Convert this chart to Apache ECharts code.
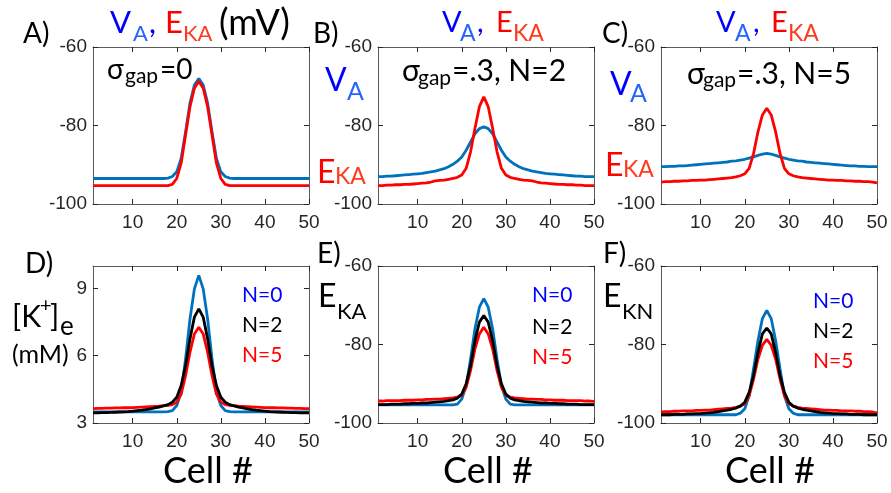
<!DOCTYPE html>
<html><head><meta charset="utf-8">
<script src="https://cdn.jsdelivr.net/npm/echarts@6/dist/echarts.min.js"></script>
<style>html,body{margin:0;padding:0;background:#fff}#c{width:891px;height:493px}</style>
</head><body><div id="c"></div>
<script>
// ---- data ----
const CELLS = [1,2,3,4,5,6,7,8,9,10,11,12,13,14,15,16,17,18,19,20,21,22,23,24,25,26,27,28,29,30,31,32,33,34,35,36,37,38,39,40,41,42,43,44,45,46,47,48,49,50];
const X_TICKS = [10,20,30,40,50];
const Y_TICKS_MV = [-100,-80,-60];
const Y_TICKS_K = [3,6,9];

// A) sigma_gap = 0
const A_VA = [-93.5,-93.5,-93.5,-93.5,-93.5,-93.5,-93.5,-93.5,-93.5,-93.5,
  -93.5,-93.5,-93.5,-93.5,-93.5,-93.5,-93.5,-93.4,-93.0,-91.8,
  -88.4,-81.6,-74.3,-69.7,-68.0,-69.7,-74.3,-81.6,-88.4,-91.8,
  -93.0,-93.4,-93.5,-93.5,-93.5,-93.5,-93.5,-93.5,-93.5,-93.5,
  -93.5,-93.5,-93.5,-93.5,-93.5,-93.5,-93.5,-93.5,-93.5,-93.5];
const A_EKA = [-95.3,-95.3,-95.3,-95.3,-95.3,-95.3,-95.3,-95.3,-95.3,-95.3,
  -95.3,-95.3,-95.3,-95.3,-95.3,-95.3,-95.3,-95.3,-95.0,-93.5,
  -89.6,-82.4,-75.2,-70.5,-68.7,-70.5,-75.2,-82.4,-89.6,-93.5,
  -95.0,-95.3,-95.3,-95.3,-95.3,-95.3,-95.3,-95.3,-95.3,-95.3,
  -95.3,-95.3,-95.3,-95.3,-95.3,-95.3,-95.3,-95.3,-95.3,-95.3];
// B) sigma_gap = .3, N = 2
const B_VA = [-93.0,-93.0,-92.9,-92.9,-92.8,-92.7,-92.6,-92.5,-92.4,-92.3,
  -92.2,-92.0,-91.8,-91.6,-91.3,-91.0,-90.5,-89.9,-89.1,-88.0,
  -86.3,-84.2,-82.1,-80.8,-80.3,-80.8,-82.1,-84.2,-86.3,-88.0,
  -89.1,-89.9,-90.5,-91.0,-91.3,-91.6,-91.8,-92.0,-92.2,-92.3,
  -92.4,-92.5,-92.6,-92.7,-92.8,-92.9,-92.9,-93.0,-93.0,-93.0];
const B_EKA = [-95.3,-95.3,-95.2,-95.2,-95.1,-95.1,-95.0,-95.0,-94.9,-94.8,
  -94.7,-94.6,-94.4,-94.1,-94.0,-93.9,-93.7,-93.5,-93.2,-92.6,
  -90.9,-86.7,-80.7,-75.2,-72.7,-75.2,-80.7,-86.7,-90.9,-92.6,
  -93.2,-93.5,-93.7,-93.9,-94.0,-94.1,-94.4,-94.6,-94.7,-94.8,
  -94.9,-95.0,-95.0,-95.1,-95.1,-95.2,-95.2,-95.3,-95.3,-95.3];
// C) sigma_gap = .3, N = 5
const C_VA = [-90.5,-90.5,-90.4,-90.4,-90.3,-90.3,-90.2,-90.1,-90.0,-89.9,
  -89.8,-89.7,-89.6,-89.5,-89.4,-89.3,-89.1,-89.0,-88.8,-88.6,
  -88.3,-88.0,-87.6,-87.3,-87.1,-87.3,-87.6,-88.0,-88.3,-88.6,
  -88.8,-89.0,-89.1,-89.3,-89.4,-89.5,-89.6,-89.7,-89.8,-89.9,
  -90.0,-90.1,-90.2,-90.3,-90.3,-90.4,-90.4,-90.5,-90.5,-90.5];
const C_EKA = [-94.4,-94.3,-94.3,-94.2,-94.2,-94.1,-94.1,-94.0,-94.0,-93.9,
  -93.9,-93.8,-93.7,-93.6,-93.5,-93.4,-93.3,-93.1,-92.8,-92.3,
  -90.9,-87.1,-81.6,-77.3,-75.6,-77.3,-81.6,-87.1,-90.9,-92.3,
  -92.8,-93.1,-93.3,-93.4,-93.5,-93.6,-93.7,-93.8,-93.9,-93.9,
  -94.0,-94.0,-94.1,-94.1,-94.2,-94.2,-94.3,-94.3,-94.4,-94.6];
// D) [K+]e (mM)
const D_N0 = [3.50,3.50,3.50,3.50,3.50,3.50,3.50,3.50,3.50,3.50,
  3.50,3.50,3.50,3.50,3.50,3.50,3.50,3.51,3.55,3.78,
  4.37,5.86,7.64,8.98,9.58,8.98,7.64,5.86,4.37,3.78,
  3.55,3.51,3.50,3.50,3.50,3.50,3.50,3.50,3.50,3.50,
  3.50,3.50,3.50,3.50,3.50,3.50,3.50,3.50,3.50,3.50];
const D_N2 = [3.45,3.45,3.46,3.46,3.47,3.48,3.49,3.50,3.51,3.53,
  3.55,3.57,3.60,3.63,3.67,3.71,3.76,3.82,3.93,4.15,
  4.67,5.56,6.75,7.72,8.09,7.72,6.75,5.56,4.67,4.15,
  3.93,3.82,3.76,3.71,3.67,3.63,3.60,3.57,3.55,3.53,
  3.51,3.50,3.49,3.48,3.47,3.46,3.46,3.45,3.45,3.45];
const D_N5 = [3.64,3.65,3.65,3.66,3.66,3.67,3.67,3.68,3.68,3.69,
  3.70,3.71,3.72,3.73,3.74,3.75,3.77,3.79,3.82,3.93,
  4.29,5.12,6.16,6.97,7.27,6.97,6.16,5.12,4.29,3.93,
  3.82,3.79,3.77,3.75,3.74,3.73,3.72,3.71,3.70,3.69,
  3.68,3.68,3.67,3.67,3.66,3.66,3.65,3.65,3.64,3.64];
// E) E_KA
const E_N0 = [-95.4,-95.4,-95.4,-95.4,-95.4,-95.4,-95.4,-95.4,-95.4,-95.4,
  -95.4,-95.4,-95.4,-95.4,-95.4,-95.4,-95.4,-95.4,-95.2,-93.9,
  -90.5,-83.7,-76.0,-70.5,-68.3,-70.5,-76.0,-83.7,-90.5,-93.9,
  -95.2,-95.4,-95.4,-95.4,-95.4,-95.4,-95.4,-95.4,-95.4,-95.4,
  -95.4,-95.4,-95.4,-95.4,-95.4,-95.4,-95.4,-95.4,-95.4,-95.4];
const E_N2 = [-95.3,-95.3,-95.3,-95.2,-95.2,-95.2,-95.1,-95.1,-95.0,-95.0,
  -94.9,-94.9,-94.8,-94.7,-94.6,-94.5,-94.3,-94.1,-93.7,-92.6,
  -90.0,-85.3,-79.0,-74.3,-72.6,-74.3,-79.0,-85.3,-90.0,-92.6,
  -93.7,-94.1,-94.3,-94.5,-94.6,-94.7,-94.8,-94.9,-94.9,-95.0,
  -95.0,-95.1,-95.1,-95.2,-95.2,-95.2,-95.3,-95.3,-95.3,-95.3];
const E_N5 = [-94.4,-94.4,-94.3,-94.3,-94.3,-94.3,-94.2,-94.2,-94.2,-94.1,
  -94.1,-94.0,-94.0,-93.9,-93.9,-93.8,-93.7,-93.6,-93.4,-92.9,
  -90.9,-86.6,-81.1,-77.3,-75.6,-77.3,-81.1,-86.6,-90.9,-92.9,
  -93.4,-93.6,-93.7,-93.8,-93.9,-93.9,-94.0,-94.0,-94.1,-94.1,
  -94.2,-94.2,-94.2,-94.3,-94.3,-94.3,-94.3,-94.4,-94.4,-94.5];
// F) E_KN
const F_N0 = [-97.9,-97.9,-97.9,-97.9,-97.9,-97.9,-97.9,-97.9,-97.9,-97.9,
  -97.9,-97.9,-97.9,-97.9,-97.9,-97.9,-97.9,-97.9,-97.5,-96.4,
  -93.0,-86.2,-79.0,-73.4,-71.3,-73.4,-79.0,-86.2,-93.0,-96.4,
  -97.5,-97.9,-97.9,-97.9,-97.9,-97.9,-97.9,-97.9,-97.9,-97.9,
  -97.9,-97.9,-97.9,-97.9,-97.9,-97.9,-97.9,-97.9,-97.9,-97.9];
const F_N2 = [-97.9,-97.9,-97.9,-97.8,-97.8,-97.8,-97.7,-97.7,-97.6,-97.6,
  -97.5,-97.4,-97.3,-97.1,-96.9,-96.7,-96.5,-96.2,-95.7,-94.7,
  -92.2,-87.9,-82.0,-77.3,-75.8,-77.3,-82.0,-87.9,-92.2,-94.7,
  -95.7,-96.2,-96.5,-96.7,-96.9,-97.1,-97.3,-97.4,-97.5,-97.6,
  -97.6,-97.7,-97.7,-97.8,-97.8,-97.8,-97.9,-97.9,-97.9,-97.9];
const F_N5 = [-97.2,-97.1,-97.1,-97.0,-97.0,-96.9,-96.9,-96.9,-96.8,-96.8,
  -96.7,-96.7,-96.6,-96.5,-96.4,-96.3,-96.2,-96.0,-95.7,-95.1,
  -93.0,-88.8,-83.7,-80.2,-78.7,-80.2,-83.7,-88.8,-93.0,-95.1,
  -95.7,-96.0,-96.2,-96.3,-96.4,-96.5,-96.6,-96.7,-96.7,-96.8,
  -96.8,-96.9,-96.9,-96.9,-97.0,-97.0,-97.1,-97.1,-97.2,-97.4];

// ---- styling ----
const BLUE = '#0072BD', RED = '#FF0000', BLACK = '#000000';
const TXT_BLUE = '#0000FF', TXT_BLUE2 = '#2563FF', TXT_RED = '#FF0000', TXT_RED2 = '#FF3A1F';
const FONT = 'Lato, "Noto Sans", sans-serif';
const AXFONT = '"Liberation Sans", Arial, sans-serif';
const AXCOL = '#5c5c5c', TICKCOL = '#262626';
const W = 216, H = 157;

const panels = [
  {left:93,  top:47,  ymin:-100, ymax:-60, yt:Y_TICKS_MV, lines:[[A_VA,BLUE],[A_EKA,RED]]},
  {left:378, top:47,  ymin:-100, ymax:-60, yt:Y_TICKS_MV, lines:[[B_VA,BLUE],[B_EKA,RED]]},
  {left:661, top:47,  ymin:-100, ymax:-60, yt:Y_TICKS_MV, lines:[[C_VA,BLUE],[C_EKA,RED]]},
  {left:93,  top:266, ymin:3,    ymax:10,  yt:Y_TICKS_K,  lines:[[D_N0,BLUE],[D_N5,RED],[D_N2,BLACK]]},
  {left:378, top:266, ymin:-100, ymax:-60, yt:Y_TICKS_MV, lines:[[E_N0,BLUE],[E_N5,RED],[E_N2,BLACK]]},
  {left:661, top:266, ymin:-100, ymax:-60, yt:Y_TICKS_MV, lines:[[F_N0,BLUE],[F_N5,RED],[F_N2,BLACK]]}
];

const grid = [], xAxis = [], yAxis = [], series = [];
panels.forEach((p, i) => {
  grid.push({left:p.left, top:p.top, width:W, height:H, containLabel:false, outerBoundsMode:'none', show:false});
  const line = {show:true, onZero:false, lineStyle:{color:AXCOL, width:1}};
  const xt = {show:true, inside:true, length:5, customValues:X_TICKS, lineStyle:{color:TICKCOL, width:1}};
  const ytk = {show:true, inside:true, length:5, customValues:p.yt, lineStyle:{color:TICKCOL, width:1}};
  const lab = {fontFamily:AXFONT, fontSize:19, color:'#262626'};
  xAxis.push({type:'value', gridIndex:i, min:1, max:50, position:'bottom', axisLine:line, axisTick:xt,
    axisLabel:Object.assign({customValues:X_TICKS, margin:9}, lab), splitLine:{show:false}});
  xAxis.push({type:'value', gridIndex:i, min:1, max:50, position:'top', axisLine:line, axisTick:xt,
    axisLabel:{show:false}, splitLine:{show:false}});
  yAxis.push({type:'value', gridIndex:i, min:p.ymin, max:p.ymax, position:'left', axisLine:line, axisTick:ytk,
    axisLabel:Object.assign({customValues:p.yt, margin:6}, lab), splitLine:{show:false}});
  yAxis.push({type:'value', gridIndex:i, min:p.ymin, max:p.ymax, position:'right', axisLine:line, axisTick:ytk,
    axisLabel:{show:false}, splitLine:{show:false}});
  p.lines.forEach(([arr, color], k) => {
    series.push({type:'line', xAxisIndex:2*i, yAxisIndex:2*i, data:CELLS.map((c, j) => [c, arr[j]]),
      showSymbol:false, symbol:'none', smooth:false, clip:true, z:2+k,
      lineStyle:{color, width:2.8}, itemStyle:{color}, emphasis:{disabled:true}});
  });
});

function T(text, x, y, size, color, align) {
  return {type:'text', x, y, z:100, silent:true,
    style:{text, fontSize:size, fontFamily:FONT, fill:color,
      align:align||'left', verticalAlign:'middle', textAlign:align||'left', textVerticalAlign:'middle'}};
}

const texts = [
  // panel letters
  T('A)', 23, 34, 28, BLACK), T('B)', 313, 34, 28, BLACK), T('C)', 602, 34, 28, BLACK),
  T('D)', 25, 264, 28, BLACK), T('E)', 317, 254, 28, BLACK), T('F)', 603, 254, 28, BLACK),
  // title A
  T('V', 110, 23, 31, TXT_BLUE), T('A', 133, 33.5, 22, TXT_BLUE2), T(',', 149, 23, 31, TXT_BLUE),
  T('E', 165, 23, 31, TXT_RED), T('KA', 183, 33.5, 22, TXT_RED2), T('(mV)', 219, 23, 36, BLACK),
  // title B
  T('V', 442, 22.5, 29, TXT_BLUE), T('A', 460, 33.5, 23, TXT_BLUE2), T(',', 477, 22.5, 29, TXT_BLUE),
  T('E', 496, 22.5, 29, TXT_RED), T('KA', 513, 33.5, 23, TXT_RED2),
  // title C
  T('V', 716, 22.5, 29, TXT_BLUE), T('A', 735, 33.5, 23, TXT_BLUE2), T(',', 753, 22.5, 29, TXT_BLUE),
  T('E', 771, 22.5, 29, TXT_RED), T('KA', 788, 33.5, 23, TXT_RED2),
  // annotations
  T('σ', 107, 70, 28, BLACK), T('gap', 125, 76, 21, BLACK), T('=0', 160, 70, 28, BLACK),
  T('σ', 402, 71, 30, BLACK), T('gap', 418, 78, 21, BLACK), T('=.3, N=2', 452, 71, 30, BLACK),
  T('σ', 687, 74.5, 30, BLACK), T('gap', 703, 80, 21, BLACK), T('=.3, N=5', 737, 74.5, 30, BLACK),
  // left labels B
  T('V', 325, 80.5, 32, TXT_BLUE), T('A', 347, 92, 25, TXT_BLUE2),
  T('E', 317, 172.5, 32, TXT_RED), T('KA', 335, 177, 23, TXT_RED2),
  // left labels C
  T('V', 610, 84.5, 32, TXT_BLUE), T('A', 630, 94, 25, TXT_BLUE2),
  T('E', 605, 165.5, 32, TXT_RED), T('KA', 623, 170, 23, TXT_RED2),
  // D y label
  T('[K', 12, 317, 30, BLACK), T('+', 40, 306, 20, BLACK), T(']', 50, 317, 30, BLACK), T('e', 60, 327, 26, BLACK),
  T('(mM)', 12, 355, 25, BLACK),
  // E, F y labels
  T('E', 318, 296.5, 32, BLACK), T('KA', 337, 311.5, 22, BLACK),
  T('E', 603, 296.5, 32, BLACK), T('KN', 622, 311.5, 22, BLACK),
  // legends
  T('N=0', 242, 295.5, 21, TXT_BLUE), T('N=2', 242, 325.5, 21, BLACK), T('N=5', 242, 355.5, 21, TXT_RED),
  T('N=0', 532, 295.5, 21, TXT_BLUE), T('N=2', 532, 327.5, 21, BLACK), T('N=5', 532, 357.5, 21, TXT_RED),
  T('N=0', 813, 301.5, 21, TXT_BLUE), T('N=2', 813, 331.5, 21, BLACK), T('N=5', 813, 361.5, 21, TXT_RED),
  // x labels
  T('Cell #', 208, 471.5, 36, BLACK, 'center'), T('Cell #', 488, 471.5, 36, BLACK, 'center'),
  T('Cell #', 770, 471.5, 36, BLACK, 'center')
];

const chart = echarts.init(document.getElementById('c'), null, {renderer:'canvas'});
chart.setOption({
  animation:false, backgroundColor:'#ffffff',
  grid, xAxis, yAxis, series,
  graphic:{elements:texts}
});
</script></body></html>
